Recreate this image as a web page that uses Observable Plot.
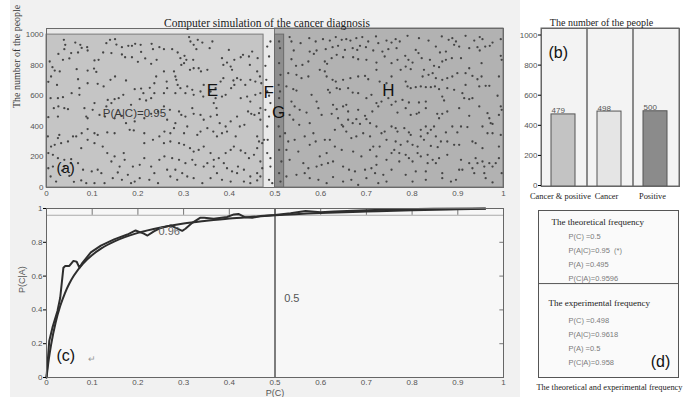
<!DOCTYPE html>
<html><head><meta charset="utf-8">
<script src="https://cdn.jsdelivr.net/npm/d3@7"></script>
<script src="https://cdn.jsdelivr.net/npm/@observablehq/plot@0.6"></script>
<style>
html,body{margin:0;padding:0;background:#fff;}
#fig{position:relative;width:683px;height:397px;overflow:hidden;background:#fff;}
#fig > div{position:absolute;}
#fig svg{display:block;}
</style></head><body><div id="fig"></div>
<script>
// ---------- data ----------
const titleA = "Computer simulation of the cancer diagnosis";
const yLabelA = "The number of the people";
const xTicks = [0,0.1,0.2,0.3,0.4,0.5,0.6,0.7,0.8,0.9,1];
const yTicksA = [0,200,400,600,800,1000];
const yMaxA = 1040;
const regionNames = ["F","E","H","G"];
const regionX1 = [0.475,0,0.5,0.5];
const regionX2 = [0.5,0.475,1,0.52];
const regionY2 = [1000,1000,1040,1000];
const labelNames = ["E","F","G","H"];
const labelX = [0.363,0.486,0.508,0.748];
const labelY = [634,620,490,634];
const noteA = "P(A|C)=0.95"; const noteAX = 0.123; const noteAY = 484;
const dots = [
[0.038,966],[0.041,933],[0.039,905],[0.063,948],[0.074,933],[0.077,913],[0.089,918],[0.090,896],[0.054,879],[0.069,883],[0.050,844],[0.036,835],[0.026,874],[0.007,824],[0.131,944],[0.139,966],[0.150,970],[0.153,935],[0.165,918],[0.179,927],[0.187,927],[0.194,940],[0.206,933],[0.207,887],[0.230,940],[0.233,905],[0.247,918],[0.165,870],[0.172,852],[0.187,852],[0.200,822],[0.216,844],[0.229,809],[0.241,835],[0.142,879],[0.124,883],[0.114,835],[0.105,831],[0.104,778],[0.109,756],[0.090,765],[0.066,774],[0.013,787],[0.018,765],[0.029,759],[0.010,726],[0.004,691],[0.023,671],[0.069,708],[0.072,650],[0.090,682],[0.112,678],[0.125,661],[0.140,704],[0.150,726],[0.174,700],[0.193,643],[0.207,647],[0.212,617],[0.226,652],[0.236,682],[0.240,726],[0.236,617],[0.229,584],[0.218,569],[0.204,578],[0.185,541],[0.168,606],[0.158,584],[0.149,578],[0.134,573],[0.142,552],[0.131,530],[0.105,552],[0.101,508],[0.083,519],[0.087,464],[0.090,453],[0.072,606],[0.055,617],[0.036,591],[0.025,584],[0.009,584],[0.039,519],[0.047,512],[0.026,530],[0.016,519],[0.025,464],[0.004,460],[0.116,475],[0.128,464],[0.149,453],[0.165,469],[0.174,421],[0.193,432],[0.214,453],[0.229,482],[0.244,497],[0.182,377],[0.191,373],[0.214,355],[0.233,312],[0.247,334],[0.149,355],[0.133,360],[0.112,344],[0.105,355],[0.090,382],[0.077,355],[0.065,334],[0.058,334],[0.047,301],[0.028,344],[0.025,323],[0.018,279],[0.010,268],[0.003,334],[0.032,290],[0.004,225],[0.014,214],[0.025,192],[0.039,181],[0.054,185],[0.076,257],[0.090,312],[0.105,290],[0.123,268],[0.133,225],[0.149,203],[0.142,170],[0.169,225],[0.171,181],[0.160,137],[0.156,98],[0.178,83],[0.189,137],[0.204,148],[0.214,192],[0.229,137],[0.236,94],[0.225,50],[0.204,61],[0.193,39],[0.185,28],[0.165,50],[0.145,61],[0.120,94],[0.112,116],[0.099,105],[0.080,116],[0.069,159],[0.053,159],[0.039,137],[0.034,111],[0.014,137],[0.004,126],[0.009,72],[0.021,39],[0.050,76],[0.060,37],[0.076,46],[0.087,28],[0.105,28],[0.127,28],[0.244,28],[0.247,181],[0.214,290],
[0.312,984],[0.315,955],[0.322,933],[0.328,905],[0.331,966],[0.341,948],[0.363,955],[0.357,911],[0.257,905],[0.275,905],[0.287,883],[0.293,846],[0.302,861],[0.306,835],[0.301,813],[0.295,802],[0.321,835],[0.322,780],[0.314,770],[0.333,780],[0.338,759],[0.352,770],[0.384,846],[0.387,802],[0.395,817],[0.403,791],[0.406,770],[0.399,900],[0.411,835],[0.425,852],[0.430,868],[0.443,857],[0.445,802],[0.450,889],[0.462,846],[0.461,759],[0.467,726],[0.457,693],[0.470,682],[0.446,704],[0.435,671],[0.425,704],[0.417,715],[0.409,700],[0.411,671],[0.387,715],[0.381,693],[0.370,650],[0.359,628],[0.257,759],[0.263,693],[0.279,759],[0.282,726],[0.284,704],[0.287,671],[0.293,650],[0.308,661],[0.304,617],[0.282,617],[0.264,650],[0.257,617],[0.319,639],[0.322,606],[0.337,628],[0.343,595],[0.344,671],[0.370,584],[0.366,552],[0.372,519],[0.384,595],[0.392,606],[0.404,650],[0.425,584],[0.439,595],[0.446,562],[0.457,606],[0.468,617],[0.483,628],[0.487,600],[0.490,552],[0.481,704],[0.479,796],[0.487,857],[0.490,955],[0.483,922],
[0.257,530],[0.270,508],[0.290,497],[0.295,475],[0.304,464],[0.319,519],[0.322,482],[0.337,475],[0.344,443],[0.359,464],[0.373,475],[0.379,421],[0.392,399],[0.403,432],[0.417,464],[0.441,497],[0.448,482],[0.455,475],[0.465,486],[0.468,519],[0.468,443],[0.433,410],[0.423,399],[0.414,334],[0.395,366],[0.384,355],[0.373,334],[0.365,366],[0.352,388],[0.337,366],[0.330,344],[0.308,399],[0.301,355],[0.279,388],[0.271,355],[0.258,366],[0.282,421],[0.264,443],[0.461,334],[0.465,301],[0.472,290],[0.476,312],[0.484,312],[0.483,399],[0.487,464],[0.479,508],
[0.257,290],[0.271,301],[0.290,290],[0.301,279],[0.314,257],[0.322,235],[0.333,246],[0.344,268],[0.359,225],[0.366,181],[0.377,192],[0.392,225],[0.403,246],[0.410,268],[0.425,242],[0.435,225],[0.443,192],[0.454,214],[0.461,257],[0.468,170],[0.483,225],[0.490,137],[0.258,203],[0.275,192],[0.290,181],[0.304,159],[0.319,181],[0.326,148],[0.344,137],[0.352,159],[0.366,137],[0.388,159],[0.395,126],[0.406,105],[0.419,137],[0.432,116],[0.446,72],[0.461,94],[0.468,72],[0.264,116],[0.282,116],[0.297,94],[0.271,72],[0.286,50],[0.308,72],[0.322,61],[0.341,28],[0.359,61],[0.373,94],[0.384,50],[0.403,39],[0.417,94],[0.432,39],[0.446,28],[0.461,46],[0.472,126],[0.487,50],[0.490,192],[0.494,28],
[0.509,955],[0.511,911],[0.509,813],[0.512,737],[0.508,671],[0.511,628],[0.509,584],[0.512,486],[0.508,399],[0.511,334],[0.509,246],[0.514,170],[0.509,94],[0.512,39],[0.532,984],[0.536,955],[0.556,944],[0.575,977],[0.589,955],[0.605,970],[0.620,961],[0.633,984],[0.646,966],[0.656,970],[0.665,961],[0.678,977],[0.691,984],[0.704,955],[0.721,988],[0.726,944],[0.744,961],[0.755,948],[0.541,896],[0.576,889],[0.591,896],[0.611,905],[0.626,918],[0.638,927],[0.653,900],[0.670,911],[0.680,900],[0.686,927],[0.699,918],[0.715,896],[0.735,889],[0.748,905],[0.536,839],[0.546,796],[0.560,802],[0.573,824],[0.585,874],[0.609,824],[0.614,809],[0.624,846],[0.635,868],[0.649,852],[0.671,852],[0.682,839],[0.700,835],[0.722,817],[0.740,857],[0.755,813],[0.529,748],[0.547,737],[0.558,715],[0.573,726],[0.598,770],[0.609,759],[0.613,726],[0.626,704],[0.633,693],[0.649,704],[0.665,715],[0.682,726],[0.697,730],[0.704,708],[0.722,770],[0.729,693],[0.744,682],[0.755,726],[0.525,661],[0.540,643],[0.547,634],[0.580,606],[0.616,639],[0.620,621],[0.635,650],[0.642,643],[0.660,650],[0.670,621],[0.682,617],[0.700,584],[0.711,606],[0.722,552],[0.733,562],[0.748,584],[0.755,541],[0.536,562],[0.543,530],[0.554,508],[0.569,490],[0.591,562],[0.595,519],[0.627,541],[0.635,512],[0.649,530],[0.656,541],[0.660,497],[0.682,508],[0.697,469],[0.713,497],[0.726,530],[0.532,475],[0.540,443],[0.553,410],[0.576,421],[0.602,475],[0.624,482],[0.638,453],[0.646,410],[0.660,443],[0.670,421],[0.678,447],[0.686,416],[0.700,447],[0.708,421],[0.722,399],[0.733,355],[0.740,366],[0.755,399],[0.522,355],[0.529,301],[0.543,312],[0.565,334],[0.584,355],[0.589,301],[0.609,312],[0.620,312],[0.631,377],[0.649,399],[0.656,366],[0.667,323],[0.678,334],[0.693,355],[0.708,334],[0.715,268],[0.729,268],[0.744,312],[0.525,246],[0.551,235],[0.576,279],[0.598,203],[0.613,225],[0.631,268],[0.646,246],[0.671,235],[0.689,203],[0.708,246],[0.722,203],[0.744,181],[0.755,225],[0.532,181],[0.562,159],[0.573,126],[0.591,137],[0.602,148],[0.616,159],[0.627,170],[0.649,137],[0.662,116],[0.675,105],[0.697,116],[0.711,126],[0.722,148],[0.737,83],[0.755,116],[0.525,72],[0.547,83],[0.565,94],[0.576,61],[0.595,50],[0.613,28],[0.627,68],[0.649,39],[0.667,50],[0.682,17],[0.700,61],[0.719,94],[0.726,28],[0.744,39],
[0.764,970],[0.773,955],[0.790,992],[0.815,977],[0.836,961],[0.865,988],[0.880,966],[0.888,977],[0.896,955],[0.917,992],[0.936,961],[0.948,984],[0.954,970],[0.976,948],[0.994,970],[0.766,911],[0.808,900],[0.814,879],[0.852,922],[0.861,883],[0.874,889],[0.892,933],[0.903,922],[0.925,911],[0.943,918],[0.948,896],[0.960,922],[0.970,927],[0.994,861],[0.996,835],[0.768,835],[0.785,861],[0.792,835],[0.801,817],[0.786,791],[0.775,770],[0.797,774],[0.821,846],[0.839,835],[0.848,796],[0.859,787],[0.866,824],[0.874,835],[0.887,846],[0.907,846],[0.925,780],[0.952,813],[0.826,770],[0.823,726],[0.836,737],[0.845,748],[0.852,715],[0.866,704],[0.877,715],[0.888,726],[0.899,748],[0.917,748],[0.932,730],[0.943,708],[0.952,726],[0.990,726],[0.786,693],[0.790,661],[0.797,650],[0.808,656],[0.819,661],[0.830,656],[0.841,656],[0.850,661],[0.859,643],[0.877,650],[0.892,639],[0.910,617],[0.914,584],[0.925,578],[0.932,584],[0.917,671],[0.947,661],[0.961,665],[0.969,665],[0.987,600],[0.994,530],[0.764,562],[0.779,573],[0.793,556],[0.815,556],[0.830,562],[0.866,595],[0.870,569],[0.830,519],[0.815,490],[0.810,482],[0.797,475],[0.786,519],[0.768,490],[0.855,482],[0.859,453],[0.866,482],[0.877,497],[0.903,519],[0.925,469],[0.947,530],[0.965,486],[0.969,453],[0.972,421],[0.976,416],[0.990,475],[0.996,508],[0.764,388],[0.768,366],[0.783,388],[0.793,360],[0.797,344],[0.819,377],[0.830,399],[0.841,377],[0.848,399],[0.834,355],[0.819,334],[0.852,334],[0.863,301],[0.874,360],[0.888,399],[0.899,360],[0.907,399],[0.921,395],[0.932,301],[0.954,399],[0.965,355],[0.976,355],[0.994,344],[0.764,301],[0.775,279],[0.790,301],[0.801,279],[0.812,268],[0.826,312],[0.841,272],[0.856,264],[0.877,301],[0.892,279],[0.903,279],[0.939,290],[0.954,257],[0.990,268],[0.761,246],[0.772,225],[0.786,214],[0.793,192],[0.812,225],[0.819,203],[0.834,214],[0.845,181],[0.859,192],[0.877,214],[0.907,181],[0.939,192],[0.954,170],[0.969,159],[0.983,159],[0.990,192],[0.772,170],[0.801,170],[0.834,159],[0.852,159],[0.925,159],[0.943,159],[0.958,137],[0.976,137],[0.996,94],[0.786,83],[0.808,105],[0.830,105],[0.866,94],[0.903,116],[0.910,116],[0.936,94],[0.958,94],[0.801,39],[0.830,50],[0.866,61],[0.885,39],[0.896,50],[0.961,61],[0.976,33],[0.932,126]
];

// panel (b)
const titleB = "The number of the people";
const barCats = ["Cancer & positive","Cancer","Positive"];
const barVals = [479,498,500];
const yTicksB = [0,200,400,600,800,1000];
const yMaxB = 1050;

// panel (c)
const yTicksC = [0,0.2,0.4,0.6,0.8,1];
const theoX = [0,0.005,0.01,0.02,0.03,0.04,0.05,0.06,0.08,0.1,0.12,0.15,0.2,0.25,0.3,0.35,0.4,0.45,0.5,0.6,0.7,0.8,0.9,0.96];
const theoY = [0,0.107,0.193,0.326,0.423,0.497,0.556,0.603,0.674,0.725,0.764,0.807,0.856,0.888,0.911,0.927,0.941,0.951,0.960,0.973,0.982,0.990,0.995,0.998];
const expX = [0,0.006,0.013,0.024,0.03,0.037,0.041,0.05,0.059,0.066,0.072,0.079,0.097,0.119,0.148,0.177,0.195,0.203,0.213,0.221,0.235,0.25,0.272,0.283,0.297,0.304,0.319,0.336,0.345,0.366,0.395,0.41,0.42,0.435,0.45,0.468,0.5,0.534,0.567,0.6,0.629,0.7,0.774,0.847,0.96];
const expY = [0,0.216,0.295,0.394,0.472,0.65,0.66,0.66,0.69,0.685,0.65,0.68,0.74,0.78,0.817,0.846,0.87,0.862,0.851,0.84,0.865,0.885,0.9,0.885,0.868,0.88,0.915,0.945,0.945,0.94,0.95,0.965,0.968,0.948,0.945,0.955,0.962,0.972,0.985,0.978,0.982,0.99,0.995,0.998,1.0];
const pC = 0.5;
const pCA = 0.96;
const xLabelC = "P(C)";
const yLabelC = "P(C|A)";

// panel (d)
const theoHeader = "The theoretical frequency";
const theoLines = ["P(C) =0.5","P(A|C)=0.95  (*)","P(A) =0.495","P(C|A)=0.9596"];
const expHeader = "The experimental frequency";
const expLines = ["P(C) =0.498","P(A|C)=0.9618","P(A) =0.5","P(C|A)=0.958"];
const captionD = "The theoretical and experimental frequency";

// ---------- styles ----------
const SERIF = "'Liberation Serif','Times New Roman',serif";
const SANS = "'Liberation Sans',Arial,sans-serif";
const regionFill = {E:"#c5c5c5", F:"#e9e9e9", G:"#8e8e8e", H:"#b2b2b2"};
const regionStroke = {E:"#7a7a7a", F:"none", G:"#6a6a6a", H:"#777"};
const barFill = {"Cancer & positive":"#c3c3c3","Cancer":"#e5e5e5","Positive":"#8b8b8b"};
const fmt = d => String(d);
const fig = document.getElementById("fig");
function place(el, left, top){
  const d = document.createElement("div");
  d.style.left = left+"px"; d.style.top = top+"px";
  d.appendChild(el); fig.appendChild(d); return d;
}
// left column grey figure background
const bgDiv = document.createElement("div");
bgDiv.style.cssText = "left:10px;top:0;width:510px;height:397px;background:#f1f1f1;";
fig.appendChild(bgDiv);

// ---------- panel (a) ----------
const regions = regionNames.map((n,i)=>({name:n,x1:regionX1[i],x2:regionX2[i],y2:regionY2[i]}));
const labels = labelNames.map((n,i)=>({name:n,x:labelX[i],y:labelY[i]}));
const plotA = Plot.plot({
  width:510, height:200, marginLeft:36, marginRight:17, marginTop:28, marginBottom:13,
  style:{background:"transparent", fontFamily:SANS, overflow:"visible"},
  x:{domain:[0,1]}, y:{domain:[0,yMaxA]},
  marks:[
    Plot.frame({fill:"#e9e9e9"}),
    Plot.rect(regions,{x1:"x1",x2:"x2",y1:0,y2:"y2",fill:d=>regionFill[d.name],stroke:d=>regionStroke[d.name],strokeWidth:1}),
    Plot.dot(dots,{x:d=>d[0],y:d=>d[1],r:1.15,fill:"#454545",stroke:null}),
    Plot.text(labels,{x:"x",y:"y",text:"name",fontSize:17,fill:"#111"}),
    Plot.text([noteA],{x:noteAX,y:noteAY,text:d=>d,textAnchor:"start",fontSize:11.5,fill:"#3a3a3a"}),
    Plot.text(["(a)"],{frameAnchor:"bottom-left",dx:10,dy:-15,fontSize:15,fill:"#111",textAnchor:"start"}),
    Plot.frame({stroke:"#6a6a6a"}),
    Plot.axisX(xTicks,{tickSize:0,tickPadding:3,fontSize:8,fill:"#555",tickFormat:fmt,label:null}),
    Plot.axisY(yTicksA,{tickSize:0,tickPadding:3,fontSize:8,fill:"#555",tickFormat:fmt,label:null}),
    Plot.text([titleA],{frameAnchor:"top",dy:-10,dx:-8,fontFamily:SERIF,fontSize:11.5,fill:"#222"}),
    Plot.text([yLabelA],{frameAnchor:"left",rotate:-90,dx:-30,fontFamily:SERIF,fontSize:10,fill:"#333"})
  ]
});
place(plotA,10,0);

// ---------- panel (b) ----------
const bars = barCats.map((c,i)=>({cat:c,val:barVals[i]}));
const plotB = Plot.plot({
  width:163, height:205, marginLeft:21, marginRight:4, marginTop:28, marginBottom:19,
  style:{background:"transparent", fontFamily:SANS, overflow:"visible"},
  x:{domain:barCats, padding:0}, y:{domain:[0,yMaxB]},
  marks:[
    Plot.frame({fill:"#f3f3f3"}),
    Plot.barY(barCats,{x:d=>d,y:()=>yMaxB,fill:"none",stroke:"#666"}),
    Plot.barY(bars,{x:"cat",y:"val",fill:d=>barFill[d.cat],stroke:"#555",insetLeft:10,insetRight:12}),
    Plot.text(bars,{x:"cat",y:"val",text:d=>fmt(d.val),textAnchor:"start",lineAnchor:"bottom",dx:-13,dy:-1,fontSize:8,fill:"#555"}),
    Plot.text(["(b)"],{frameAnchor:"top-left",dx:7,dy:24,lineAnchor:"middle",textAnchor:"start",fontSize:16,fill:"#111"}),
    Plot.frame({stroke:"#666"}),
    Plot.axisY(yTicksB,{tickSize:3,tickPadding:1,fontSize:8,fill:"#555",tickFormat:fmt,label:null,dy:-1}),
    Plot.axisX({tickSize:0,tickPadding:7,fontSize:8.4,fontFamily:SERIF,fill:"#222",label:null,dx:-4}),
    Plot.text([titleB],{frameAnchor:"top",dy:-10,dx:-9,fontFamily:SERIF,fontSize:10,fill:"#222"})
  ]
});
place(plotB,520,0);

// ---------- panel (c) ----------
const theo = theoX.map((x,i)=>({x, y:theoY[i]}));
const expd = expX.map((x,i)=>({x, y:expY[i]}));
const plotC = Plot.plot({
  width:510, height:197, marginLeft:36, marginRight:17, marginTop:8, marginBottom:20,
  style:{background:"transparent", fontFamily:SANS, overflow:"visible"},
  x:{domain:[0,1]}, y:{domain:[0,1]},
  marks:[
    Plot.frame({fill:"#f7f7f7"}),
    Plot.ruleY([pCA],{stroke:"#aaa"}),
    Plot.ruleX(xTicks,{x:d=>d,y1:pCA,y2:1,stroke:"#777"}),
    Plot.ruleY(yTicksC,{y:d=>d,x1:0.992,x2:1,stroke:"#777"}),
    Plot.ruleX([pC],{stroke:"#555",strokeWidth:1.5}),
    Plot.line(theo,{x:"x",y:"y",stroke:"#2e2e2e",strokeWidth:2,curve:"monotone-x"}),
    Plot.line(expd,{x:"x",y:"y",stroke:"#2e2e2e",strokeWidth:2}),
    Plot.text([fmt(pC)],{x:0.52,y:0.47,text:d=>d,textAnchor:"start",fontSize:11,fill:"#555"}),
    Plot.text([fmt(pCA)],{x:0.245,y:0.864,text:d=>d,textAnchor:"start",fontSize:11,fill:"#666"}),
    Plot.text(["(c)"],{frameAnchor:"bottom-left",dx:10,dy:-17,textAnchor:"start",fontSize:16,fill:"#111"}),
    Plot.text(["\u21B5"],{x:0.1,y:0.11,text:d=>d,fontSize:9,fill:"#999"}),
    Plot.frame({stroke:"#666"}),
    Plot.axisX(xTicks,{tickSize:0,tickPadding:2,fontSize:8,fill:"#555",tickFormat:fmt,label:null}),
    Plot.axisY(yTicksC,{tickSize:3,tickPadding:1,fontSize:8,fill:"#555",tickFormat:fmt,label:null}),
    Plot.text([xLabelC],{frameAnchor:"bottom",dy:18.5,fontSize:9,fill:"#555"}),
    Plot.text([yLabelC],{frameAnchor:"left",rotate:-90,dx:-24,fontSize:9,fill:"#555"})
  ]
});
place(plotC,10,200);

// ---------- panel (d) ----------
const rows = [];
rows.push({text:theoHeader, y:0.85, x:0.093, head:true});
theoLines.forEach((t,i)=>rows.push({text:t, y:1.9+i, x:0.214, head:false}));
rows.push({text:expHeader, y:6.65, x:0.071, head:true});
expLines.forEach((t,i)=>rows.push({text:t, y:7.9+i, x:0.214, head:false}));
const plotD = Plot.plot({
  width:163, height:197, marginLeft:18, marginRight:5, marginTop:10, marginBottom:20,
  style:{background:"transparent", fontFamily:SANS, overflow:"visible"},
  x:{domain:[0,1], axis:null}, y:{domain:[0,12], reverse:true, axis:null},
  marks:[
    Plot.frame({fill:"#fafafa", stroke:"#555"}),
    Plot.ruleY([5.25],{stroke:"#555"}),
    Plot.text(rows.filter(r=>r.head),{x:"x",y:"y",text:"text",textAnchor:"start",fontFamily:SERIF,fontSize:9,fill:"#222"}),
    Plot.text(rows.filter(r=>!r.head),{x:"x",y:"y",text:"text",textAnchor:"start",fontSize:7.5,fill:"#7a7a7a"}),
    Plot.text(["(d)"],{x:0.871,y:10.86,text:d=>d,fontSize:16,fill:"#111"}),
    Plot.text([captionD],{frameAnchor:"bottom-left",dy:12,dx:-2,textAnchor:"start",fontFamily:SERIF,fontSize:8.4,fill:"#222"})
  ]
});
place(plotD,520,200);
</script></body></html>
